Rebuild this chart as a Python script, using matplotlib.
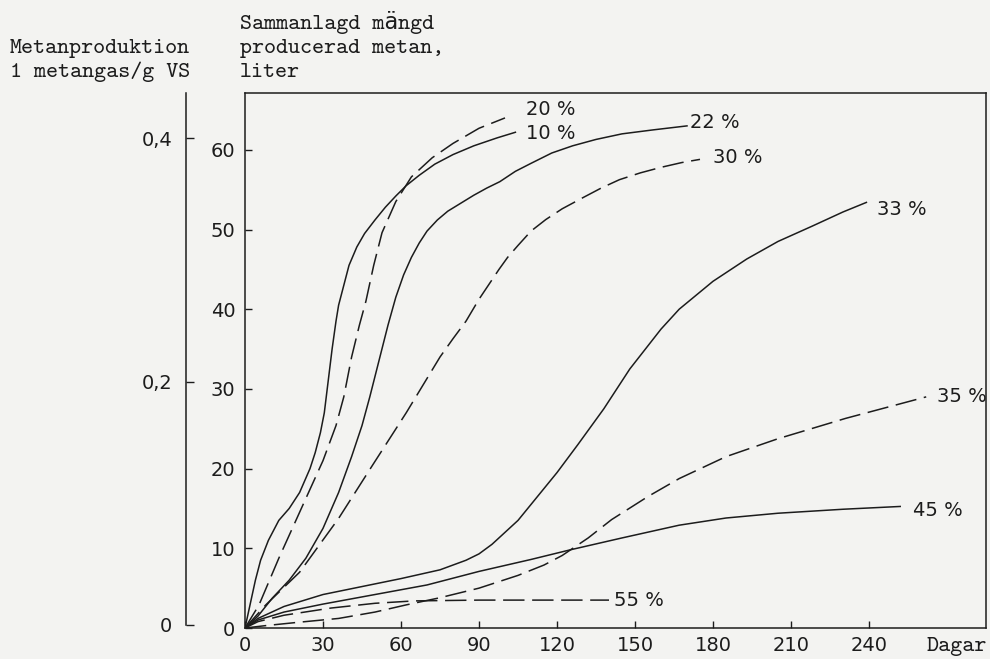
import matplotlib
matplotlib.use("Agg")
import matplotlib.pyplot as plt

W, H = 990, 659

# --- data (days, liters) ---
days_10 = [0, 2, 4, 6, 9, 13, 17, 21, 25, 27, 29, 30.5, 32, 33.5, 35, 36, 38, 40, 43, 46, 50, 54, 58,
           62, 67, 73, 80, 88, 97, 104]
vals_10 = [0, 3, 6, 8.5, 11, 13.5, 15, 17, 20, 22, 24.5, 27, 31, 35, 38.5, 40.5, 43, 45.5, 47.8, 49.5,
           51.2, 52.8, 54.2, 55.5, 56.8, 58.2, 59.4, 60.5, 61.5, 62.2]

days_20 = [0, 5.4, 13, 23.4, 30, 35, 38, 41, 44, 46.5, 49.5, 52.7, 58, 64, 72, 80, 90, 100]
vals_20 = [0, 2.9, 8.75, 16.25, 21, 25.4, 29, 34, 38, 41, 45.5, 49.6, 53.5, 56.6, 59, 60.8, 62.7, 64]

days_22 = [0, 5, 10.5, 17, 23.4, 30, 36, 41, 45, 48, 51.5, 55, 58, 61, 64, 67, 70, 74, 78, 83, 88,
           93, 98, 104, 110, 118, 126, 135, 145, 157, 170]
vals_22 = [0, 1.5, 3.75, 6, 8.75, 12.5, 17, 21.5, 25.4, 29, 33.5, 38, 41.5, 44.3, 46.5, 48.3, 49.8,
           51.2, 52.3, 53.3, 54.3, 55.2, 56, 57.3, 58.3, 59.6, 60.5, 61.3, 62, 62.5, 63]

days_30 = [0, 8, 21, 36, 49, 62, 75, 80, 85, 90, 94, 97.7, 101, 105, 110, 115.7, 122, 130, 137, 144,
           152, 160, 168, 175]
vals_30 = [0, 2.9, 7, 13.75, 20.4, 27, 34, 36.3, 38.5, 41.25, 43.2, 45, 46.5, 48, 49.8, 51.25, 52.6,
           54, 55.2, 56.25, 57.1, 57.8, 58.4, 58.8]

days_33 = [0, 5, 15, 30, 45, 60, 75, 85, 90, 95, 100, 105, 110, 115, 120, 128, 138, 148, 160, 167,
           180, 193, 205, 218, 230, 239]
vals_33 = [0, 1.2, 2.7, 4.2, 5.2, 6.2, 7.3, 8.5, 9.3, 10.5, 12, 13.5, 15.5, 17.5, 19.5, 23, 27.5,
           32.5, 37.5, 40, 43.5, 46.3, 48.5, 50.4, 52.2, 53.4]

days_35 = [0, 8, 20, 36, 50, 62, 75, 90, 105, 115, 122, 132, 141, 155, 167, 185, 205, 231, 262]
vals_35 = [0, 0.3, 0.7, 1.2, 2.0, 2.9, 3.8, 5.0, 6.6, 7.9, 9.1, 11.3, 13.6, 16.5, 18.75, 21.5, 23.75,
           26.3, 29]

days_45 = [0, 5, 15, 30, 50, 70, 90, 110, 125, 145, 167, 185, 205, 230, 252]
vals_45 = [0, 1.0, 2.0, 3.0, 4.2, 5.4, 7.1, 8.6, 9.8, 11.3, 12.9, 13.8, 14.4, 14.9, 15.25]

days_55 = [0, 5, 15, 33, 50, 65, 90, 115, 140]
vals_55 = [0, 0.8, 1.6, 2.5, 3.1, 3.4, 3.5, 3.5, 3.5]

series = [
    ("10 %", days_10, vals_10, "solid"),
    ("20 %", days_20, vals_20, "dashed"),
    ("22 %", days_22, vals_22, "solid"),
    ("30 %", days_30, vals_30, "dashed"),
    ("33 %", days_33, vals_33, "solid"),
    ("35 %", days_35, vals_35, "dashed"),
    ("45 %", days_45, vals_45, "solid"),
    ("55 %", days_55, vals_55, "dashed"),
]

# label anchor (day, liters) for each curve label
label_pos = {
    "20 %": (108, 65.0),
    "10 %": (108, 62.0),
    "22 %": (171, 63.4),
    "30 %": (180, 59.0),
    "33 %": (243, 52.5),
    "35 %": (266, 29.0),
    "45 %": (257, 14.75),
    "55 %": (142, 3.4),
}

x_ticks = [0, 30, 60, 90, 120, 150, 180, 210, 240]
y_ticks = [0, 10, 20, 30, 40, 50, 60]
vs_ticks = [0, 0.2, 0.4]
vs_labels = ["0", "0,2", "0,4"]

INK = "#1c1c1c"
BG = "#f3f3f1"
NUMFONT = "DejaVu Sans"
TYPEFONT = ["cmtt10", "DejaVu Sans Mono"]

fig = plt.figure(figsize=(W / 100, H / 100), dpi=100, facecolor=BG)

# main axes, placed in pixel terms
left, right, top, bottom = 245, 986, 93, 628
ax = fig.add_axes([left / W, (H - bottom) / H, (right - left) / W, (bottom - top) / H])
ax.set_facecolor(BG)
ax.set_xlim(0, (right - left) / 2.6)
ax.set_ylim(0, (bottom - top) / 7.97)

for name, d, v, style in series:
    if style == "dashed":
        ax.plot(d, v, color=INK, lw=1.1, linestyle=(0, (14, 5)), solid_capstyle="butt")
    else:
        ax.plot(d, v, color=INK, lw=1.1)
    lx, ly = label_pos[name]
    ax.text(lx, ly, name, fontsize=14, family=NUMFONT, color=INK, ha="left", va="center")

for s in ax.spines.values():
    s.set_linewidth(1.1)
    s.set_color(INK)

ax.set_xticks(x_ticks)
ax.set_yticks(y_ticks)
ax.tick_params(direction="in", length=5, width=1.0, colors=INK, labelsize=14, pad=6)
ax.tick_params(axis="y", pad=7)
for lab in ax.get_xticklabels() + ax.get_yticklabels():
    lab.set_family(NUMFONT)

# x axis unit at the far right end of the tick row
fig.text(927 / W, 1 - 647 / H, "Dagar", fontsize=16.5, family=TYPEFONT, color=INK,
         ha="left", va="center")

# secondary scale: methane per gram VS
vs_x, vs_bottom, vs_top = 186, 625, 93
ax2 = fig.add_axes([vs_x / W, (H - vs_bottom) / H, 0.0001, (vs_bottom - vs_top) / H])
ax2.set_facecolor("none")
ax2.set_ylim(0, (vs_bottom - vs_top) / (487 / 0.4))
for k in ["top", "right", "bottom"]:
    ax2.spines[k].set_visible(False)
ax2.spines["left"].set_linewidth(1.1)
ax2.spines["left"].set_color(INK)
ax2.set_xticks([])
ax2.set_yticks(vs_ticks)
ax2.set_yticklabels(vs_labels)
ax2.tick_params(axis="y", direction="in", length=6, width=1.0, colors=INK, labelsize=14, pad=10)
for lab in ax2.get_yticklabels():
    lab.set_family(NUMFONT)

# axis titles in typewriter style
title_lines = [
    (10, 53, "Metanproduktion"),
    (10, 77, "1 metangas/g VS"),
    (240, 29, "Sammanlagd mängd"),
    (240, 53, "producerad metan,"),
    (240, 77, "liter"),
]
for tx, ty, txt in title_lines:
    fig.text(tx / W, 1 - ty / H, txt, fontsize=16.5, family=TYPEFONT, color=INK,
             ha="left", va="baseline")

fig.savefig("out.png", dpi=100, facecolor=BG)
